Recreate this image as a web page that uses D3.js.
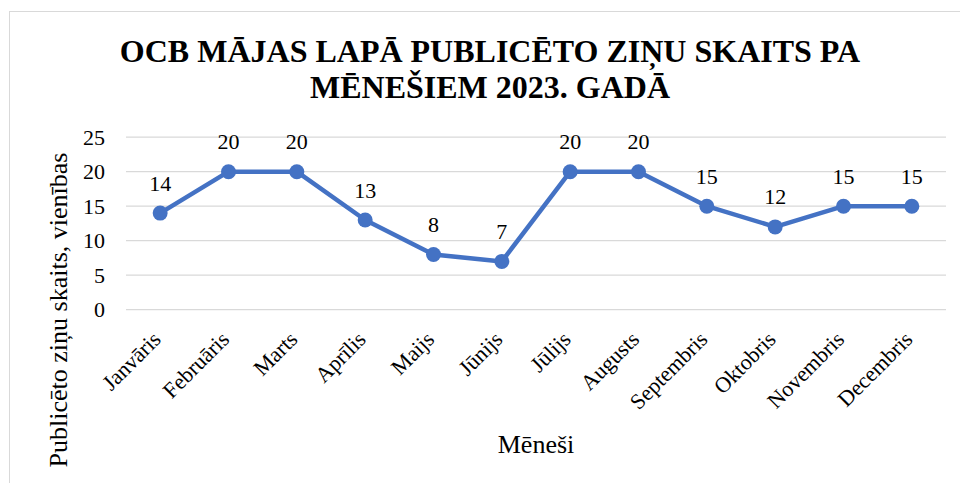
<!DOCTYPE html>
<html>
<head>
<meta charset="utf-8">
<script src="https://cdn.jsdelivr.net/npm/d3@7"></script>
<style>
  html, body { margin: 0; padding: 0; background: #fff; }
</style>
</head>
<body>
<svg id="chart" width="960" height="483"></svg>
<script>
const titleLines = ["OCB MĀJAS LAPĀ PUBLICĒTO ZIŅU SKAITS PA", "MĒNEŠIEM 2023. GADĀ"];
const months = ["Janvāris", "Februāris", "Marts", "Aprīlis", "Maijs", "Jūnijs",
                "Jūlijs", "Augusts", "Septembris", "Oktobris", "Novembris", "Decembris"];
const counts = [14, 20, 20, 13, 8, 7, 20, 20, 15, 12, 15, 15];
const yTicks = [0, 5, 10, 15, 20, 25];
const yTitle = "Publicēto ziņu skaits, vienības";
const xTitle = "Mēneši";

const FONT = "'Liberation Serif', 'Times New Roman', serif";

const svg = d3.select("#chart");
const plot = { left: 126, right: 946, top: 137.2, bottom: 309.7 };

svg.append("rect")
  .attr("x", 9.5).attr("y", 11.5)
  .attr("width", 980).attr("height", 500)
  .attr("fill", "none").attr("stroke", "#d9d9d9").attr("stroke-width", 1);

const title = svg.append("text")
  .attr("text-anchor", "middle")
  .style("font-family", FONT)
  .style("font-weight", "bold")
  .style("font-size", "32px");
titleLines.forEach((t, i) => {
  title.append("tspan").attr("x", 490).attr("y", 61.5 + i * 36.5).text(t);
});

const x = d3.scaleBand().domain(months).range([plot.left, plot.right]);
const y = d3.scaleLinear().domain([0, 25]).range([plot.bottom, plot.top]);

svg.append("g").selectAll("line").data(yTicks).join("line")
  .attr("x1", plot.left).attr("x2", plot.right)
  .attr("y1", d => y(d)).attr("y2", d => y(d))
  .attr("stroke", "#d9d9d9").attr("stroke-width", 1.3);

const yAxis = svg.append("g")
  .attr("transform", `translate(${plot.left},0)`)
  .call(d3.axisLeft(y).tickValues(yTicks).tickSize(0).tickPadding(21));
yAxis.select(".domain").remove();
yAxis.selectAll("text")
  .style("font-family", FONT)
  .style("font-size", "22px")
  .attr("fill", "#000");

const xAxis = svg.append("g")
  .attr("transform", `translate(0,${plot.bottom})`)
  .call(d3.axisBottom(x).tickSize(0).tickPadding(0));
xAxis.select(".domain").remove();
xAxis.selectAll("text")
  .style("font-family", FONT)
  .style("font-size", "22px")
  .attr("fill", "#000")
  .attr("text-anchor", "end")
  .attr("dy", 0)
  .attr("y", 0)
  .attr("transform", "translate(2,31) rotate(-45)");

svg.append("text")
  .attr("transform", "translate(67,310) rotate(-90)")
  .attr("text-anchor", "middle")
  .style("font-family", FONT)
  .style("font-size", "26px")
  .text(yTitle);

svg.append("text")
  .attr("x", (plot.left + plot.right) / 2)
  .attr("y", 452.5)
  .attr("text-anchor", "middle")
  .style("font-family", FONT)
  .style("font-size", "26px")
  .text(xTitle);

const cx = d => x(d) + x.bandwidth() / 2;
const line = d3.line().x((d, i) => cx(months[i])).y(d => y(d));
svg.append("path")
  .datum(counts)
  .attr("d", line)
  .attr("fill", "none")
  .attr("stroke", "#4472C4")
  .attr("stroke-width", 4.5)
  .attr("stroke-linejoin", "round");

svg.append("g").selectAll("circle").data(counts).join("circle")
  .attr("cx", (d, i) => cx(months[i]))
  .attr("cy", d => y(d))
  .attr("r", 7.5)
  .attr("fill", "#4472C4");

svg.append("g").selectAll("text").data(counts).join("text")
  .attr("x", (d, i) => cx(months[i]))
  .attr("y", d => y(d) - 22.5)
  .attr("text-anchor", "middle")
  .style("font-family", FONT)
  .style("font-size", "22px")
  .text(d => d);
</script>
</body>
</html>
